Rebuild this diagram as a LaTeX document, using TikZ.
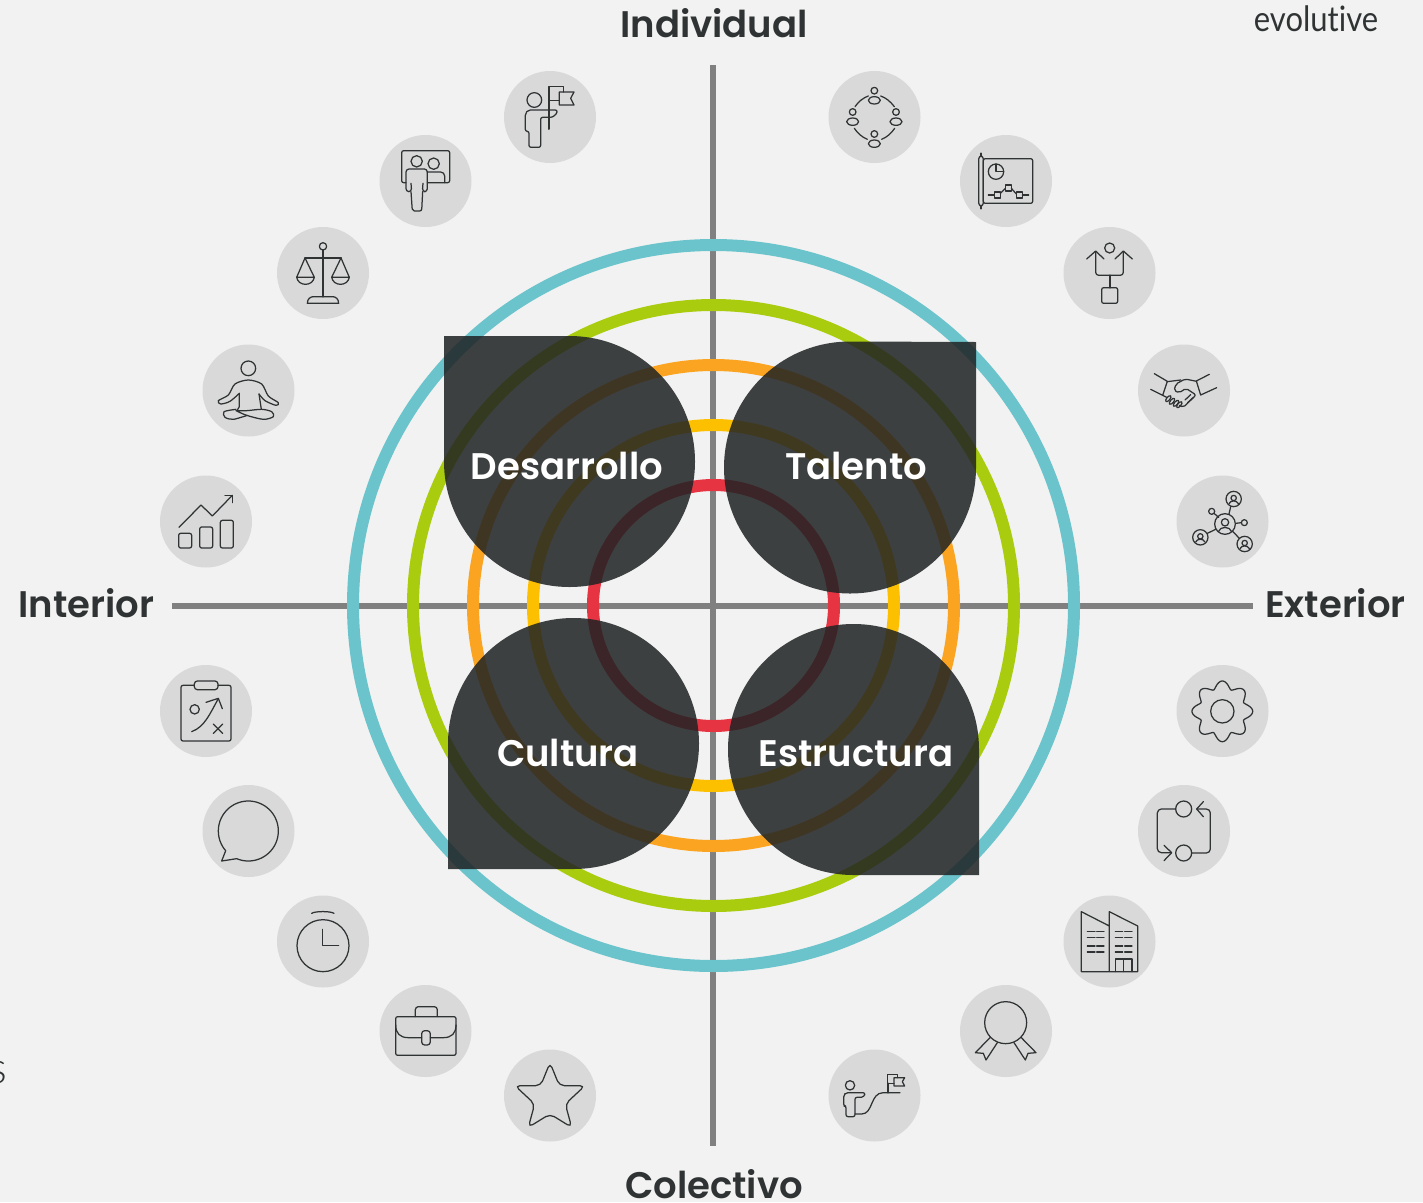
\documentclass[tikz,border=0pt]{standalone}
\usepackage{fontspec}
\newfontfamily\popsb{Poppins SemiBold}
\newfontfamily\logof[Ligatures=NoCommon,FakeStretch=0.885]{Lato}
\newfontfamily\lightf{Lato Light}
\definecolor{bgc}{HTML}{F2F2F2}
\definecolor{badgec}{HTML}{D9D9D9}
\definecolor{axisc}{HTML}{808080}
\definecolor{tealc}{HTML}{6BC3CB}
\definecolor{greenc}{HTML}{AACC0E}
\definecolor{orangec}{HTML}{FAA421}
\definecolor{yellowc}{HTML}{FDC001}
\definecolor{redc}{HTML}{E73442}
\definecolor{darkc}{HTML}{202324}
\definecolor{inkc}{HTML}{2F3334}
\tikzset{
  ring/.style={draw=#1,line width=12pt},
  axisline/.style={draw=axisc,line width=6pt},
  badge/.style={circle,fill=badgec,minimum size=92pt,inner sep=0pt},
  quad/.style={fill=darkc,fill opacity=.86},
  quadlabel/.style={text=white,font=\popsb\fontsize{37}{37}\selectfont,anchor=base,inner sep=0pt},
  axislabel/.style={text=inkc,font=\popsb\fontsize{37}{37}\selectfont,anchor=base,inner sep=0pt},
  ic/.style={draw=inkc,line width=1.25pt,line join=round,line cap=round},
  icb/.style={draw=inkc,line width=2pt,line cap=round},
  zoomA/.style={shift={(150,60)},x=.33333pt,y=-.33333pt},
  zoomB/.style={shift={(820,60)},x=.33333pt,y=-.33333pt},
  zoomC/.style={shift={(150,650)},x=.33333pt,y=-.33333pt},
  zoomD/.style={shift={(820,650)},x=.33333pt,y=-.33333pt},
}
\begin{document}
\begin{tikzpicture}[x=1pt,y=-1pt]
\useasboundingbox (0,0) rectangle (1423,1202);
\fill[bgc] (0,0) rectangle (1423,1202);
% axes
\coordinate (axT) at (712.5,65);
\coordinate (axB) at (712.5,1146);
\coordinate (axL) at (172,605.5);
\coordinate (axR) at (1253,605.5);
\draw[axisline] (axT) -- (axB);
\draw[axisline] (axL) -- (axR);
% rings
\coordinate (cen) at (713.5,605.5);
\draw[ring=tealc] (cen) circle (360.5);
\draw[ring=greenc] (cen) circle (300.5);
\draw[ring=orangec] (cen) circle (240.5);
\draw[ring=yellowc] (cen) circle (180.5);
\draw[ring=redc] (cen) circle (120.5);
% quadrant shapes
\fill[quad] (444,336) -- (569.5,336) arc[start angle=90,end angle=-180,radius=125.5pt] -- cycle;
\fill[quad] (976,342) -- (976,467.5) arc[start angle=0,end angle=-270,radius=126pt] -- cycle;
\fill[quad] (448,869) -- (448,743.5) arc[start angle=180,end angle=-90,radius=125.5pt] -- cycle;
\fill[quad] (979,875) -- (853.5,875) arc[start angle=-90,end angle=-360,radius=125.5pt] -- cycle;
\node[quadlabel] (desarrollo) at (567,479) {Desarrollo};
\node[quadlabel] (talento) at (856,479) {Talento};
\node[quadlabel] (cultura) at (568,766) {Cultura};
\node[quadlabel] (estructura) at (856,766) {Estructura};
% axis labels
\node[axislabel] (individual) at (714,37) {Individual};
\node[axislabel] (interior) at (86.5,617) {Interior};
\node[axislabel] (exterior) at (1335.5,617) {Exterior};
\node[axislabel] (colectivo) at (714,1198) {Colectivo};
\node[text=inkc,font=\logof\fontsize{35}{35}\selectfont,anchor=base,inner sep=0pt] (evolutive) at (1316,31.5) {evolutive};
\node[text=inkc,font=\lightf\fontsize{44}{44}\selectfont,anchor=base east,inner sep=0pt] (frag) at (7,1083) {s};
% badges
\node[badge] (l1) at (550,117) {};
\node[badge] (l2) at (425.5,181) {};
\node[badge] (l3) at (323,273) {};
\node[badge] (l4) at (248.5,390.5) {};
\node[badge] (l5) at (206,521.5) {};
\node[badge] (l6) at (206,711) {};
\node[badge] (l7) at (248.5,831) {};
\node[badge] (l8) at (323,941.5) {};
\node[badge] (l9) at (425.5,1031) {};
\node[badge] (l10) at (550,1095.5) {};
\node[badge] (r1) at (874.5,117) {};
\node[badge] (r2) at (1006,181) {};
\node[badge] (r3) at (1109.5,273) {};
\node[badge] (r4) at (1184,390.5) {};
\node[badge] (r5) at (1222.5,521.5) {};
\node[badge] (r6) at (1222.5,711) {};
\node[badge] (r7) at (1184,831) {};
\node[badge] (r8) at (1109.5,941.5) {};
\node[badge] (r9) at (1006,1031) {};
\node[badge] (r10) at (874.5,1095.5) {};
% ---- upper-left icons
\begin{scope}[zoomA]
 % flag person
 \draw[ic] (1153,120) circle (22);
 \draw[ic,rounded corners=2pt] (1126,160) -- (1135,150) -- (1222,150) .. controls (1220,162) and (1210,172) .. (1195,172) -- (1172,172) -- (1172,262) -- (1137,262) -- (1137,214) -- (1126,214) -- cycle;
 \draw[icb] (1197,122) -- (1197,207);
 \draw[ic] (1197,122) -- (1197,80) -- (1240,80) -- (1240,96);
 \draw[ic] (1197,122) -- (1228,122);
 \draw[ic] (1228,96) -- (1272,96) -- (1262,115) -- (1272,135) -- (1228,135) -- cycle;
 % presenter
 \draw[ic,rounded corners=2pt] (768,368) -- (755,368) -- (755,272) -- (899,272) -- (899,368) -- (832,368);
 \draw[ic] (800,304) circle (17);
 \draw[ic] (851,311) circle (17);
 \draw[ic,rounded corners=4pt] (832,336) -- (884,336) -- (884,368);
 \draw[ic,rounded corners=3pt] (783,370) -- (785,395) -- (768,395) -- (768,327) -- (832,327) -- (832,395) -- (817,395) -- (819,370);
 \draw[ic,rounded corners=2pt] (783,395) -- (787,453) -- (815,453) -- (818,395);
 % scales
 \draw[ic] (519,559) circle (11);
 \draw[icb] (519,570) -- (519,710);
 \draw[icb] (465,594) -- (573,594);
 \draw[ic] (465,594) -- (440,652) -- (493,652) -- cycle;
 \draw[ic] (440,652) .. controls (445,680) and (488,680) .. (493,652);
 \draw[ic] (573,594) -- (545,652) -- (598,652) -- cycle;
 \draw[ic] (545,652) .. controls (550,680) and (593,680) .. (598,652);
 \draw[ic] (472,730) -- (566,730) .. controls (566,716) and (556,710) .. (548,710) -- (490,710) .. controls (482,710) and (472,716) .. (472,730) -- cycle;
 % meditation
 \draw[ic] (295,925) circle (22);
 \draw[ic] plot[smooth] coordinates {(268,1000) (240,1024) (212,1032) (205,1022) (235,1005) (255,972) (295,960) (335,972) (355,1008) (385,1028) (378,1036) (345,1022) (327,1002)};
 \draw[ic] (268,1000) -- (268,1040) -- (262,1050);
 \draw[ic] (327,1002) -- (334,1048);
 \draw[ic] plot[smooth] coordinates {(258,1052) (290,1052) (335,1048) (365,1055) (370,1070) (340,1078) (290,1066) (258,1052)};
 \draw[ic] plot[smooth] coordinates {(292,1066) (250,1078) (225,1072) (222,1055) (258,1048)};
 % growth
 \draw[ic,rounded corners=2pt] (86,1420) rectangle (125,1464);
 \draw[ic,rounded corners=2pt] (149,1401) rectangle (188,1464);
 \draw[ic,rounded corners=2pt] (211,1381) rectangle (250,1464);
 \draw[ic] (87,1402) -- (153,1335) -- (187,1368) -- (247,1306);
 \draw[ic] (225,1306) -- (247,1306) -- (247,1328);
\end{scope}
% ---- upper-right icons
\begin{scope}[zoomB]
 % circle of people
 \foreach \a/\b in {163/92,98/156,228/156,163/222}{
  \draw[ic] (\a,\b) circle (10);
  \draw[ic] (\a,\b+29) ellipse (18 and 11);
 }
 \draw[ic] (105,140) .. controls (115,125) and (130,113) .. (145,108);
 \draw[ic] (182,108) .. controls (197,113) and (212,125) .. (223,140);
 \draw[ic] (103,205) .. controls (113,220) and (127,232) .. (142,238);
 \draw[ic] (185,238) .. controls (200,232) and (214,220) .. (224,205);
 % chart scroll
 \draw[ic,rounded corners=2pt] (490,296) rectangle (638,430);
 \draw[ic,rounded corners=3pt] (476,288) rectangle (490,438);
 \draw[icb] (483,280) -- (483,288);
 \draw[icb] (483,438) -- (483,446);
 \draw[ic] (528,335) circle (23);
 \draw[ic] (528,312) -- (528,335) -- (551,335);
 \draw[ic] (505,405) -- (522,405);
 \draw[ic] (523,396) rectangle (541,414);
 \draw[ic] (541,400) -- (556,385);
 \draw[ic] (556,375) rectangle (574,393);
 \draw[ic] (574,385) -- (589,402);
 \draw[ic] (589,396) rectangle (607,414);
 \draw[ic] (607,405) -- (626,405);
 % split arrows
 \draw[ic] (869,564) circle (15);
 \draw[ic,rounded corners=3pt] (827,575) -- (827,646) -- (910,646) -- (910,575);
 \draw[ic] (800,597) -- (827,573) -- (852,597);
 \draw[ic] (885,597) -- (910,573) -- (937,597);
 \draw[icb] (870,646) -- (870,683);
 \draw[ic,rounded corners=2pt] (845,683) rectangle (893,730);
 % handshake
 \draw[ic] (1003,941) -- (1042,964) -- (1028,1006) -- (992,988);
 \draw[ic] (1168,943) -- (1129,963) -- (1142,1005) -- (1190,983);
 \draw[ic] (1042,965) -- (1082,960);
 \draw[ic,rounded corners=2pt] (1130,964) -- (1095,957) -- (1068,972) -- (1062,992) -- (1078,998) -- (1098,985) -- (1128,1005) -- (1090,1042) -- (1078,1036);
 \draw[ic] (1028,1006) -- (1040,1012);
 \foreach \a/\b in {1045/1016,1056/1024,1068/1030,1078/1034}{
  \draw[ic,rotate around={50:(\a,\b)}] (\a,\b) ellipse (11 and 5);
 }
 \draw[ic] (1120,1012) -- (1103,1028);
 \draw[ic] (1112,1004) -- (1095,1020);
 % network
 \draw[ic] (1215,1392) circle (31);
 \draw[ic] (1215,1387) circle (11);
 \draw[ic] (1195,1415) .. controls (1200,1398) and (1230,1398) .. (1235,1415);
 \foreach \a/\b in {1241/1317,1141/1432,1274/1452}{
  \draw[ic] (\a,\b) circle (23);
  \draw[ic] (\a,\b-3) circle (8);
  \draw[ic] (\a-14,\b+14) .. controls (\a-9,\b+3) and (\a+9,\b+3) .. (\a+14,\b+14);
 }
 \draw[ic] (1175,1354) circle (9);
 \draw[ic] (1273,1388) circle (9);
 \draw[ic] (1232,1340) -- (1227,1362);
 \draw[ic] (1162,1420) -- (1187,1408);
 \draw[ic] (1258,1435) -- (1238,1414);
 \draw[ic] (1182,1360) -- (1196,1372);
 \draw[ic] (1247,1390) -- (1264,1388);
\end{scope}
% ---- lower-left icons
\begin{scope}[zoomC]
 % clipboard
 \draw[ic,rounded corners=2pt] (133,106) -- (93,106) -- (93,273) -- (243,273) -- (243,106) -- (204,106);
 \draw[ic,rounded corners=3pt] (133,93) rectangle (204,119);
 \draw[ic] (134,178) circle (14);
 \draw[ic] (125,245) .. controls (165,230) and (180,190) .. (205,146);
 \draw[ic] (168,157) -- (205,145) -- (217,176);
 \draw[ic] (190,222) -- (218,250);
 \draw[ic] (218,222) -- (190,250);
 % speech bubble
 \draw[ic] plot[domain=247:581,samples=90] ({295+90*cos(\x)},{543-90*sin(\x)}) -- (215,633) -- (260,626);
 % stopwatch
 \draw[ic] (519,887) circle (78);
 \draw[ic] (485,790) .. controls (495,783) and (542,783) .. (552,790);
 \draw[ic] (518,838) -- (518,886) -- (566,886);
 % briefcase
 \draw[ic,rounded corners=2pt] (737,1100) rectangle (918,1216);
 \draw[ic,rounded corners=3pt] (796,1100) -- (796,1070) -- (862,1070) -- (862,1100);
 \draw[ic] (737,1125) .. controls (737,1150) and (750,1163) .. (775,1163) -- (815,1163);
 \draw[ic] (918,1125) .. controls (918,1150) and (905,1163) .. (880,1163) -- (841,1163);
 \draw[ic,rounded corners=3pt] (815,1142) rectangle (841,1185);
 % star
 \draw[ic,rounded corners=5pt] (1200,1238) -- (1228,1307) -- (1305,1307) -- (1246,1362) -- (1265,1432) -- (1200,1392) -- (1135,1432) -- (1154,1362) -- (1095,1307) -- (1172,1307) -- cycle;
\end{scope}
% ---- lower-right icons
\begin{scope}[zoomD]
 % gear
 \draw[ic] (1207,184) circle (35);
 \draw[ic] plot[domain=0:360,samples=241] ({1207+(69+22*abs(cos(4*\x))^1.6)*cos(\x)},{184-(69+22*abs(cos(4*\x))^1.6)*sin(\x)}) -- cycle;
 % cycle
 \draw[ic] (1091,477) circle (24);
 \draw[ic] (1091,609) circle (24);
 \draw[ic,rounded corners=4pt] (1067,477) -- (1012,477) -- (1012,608) -- (1052,608);
 \draw[ic] (1032,586) -- (1055,608) -- (1032,632);
 \draw[ic,rounded corners=4pt] (1115,609) -- (1171,609) -- (1171,477) -- (1130,477);
 \draw[ic] (1150,455) -- (1130,477) -- (1150,500);
 % building
 \draw[ic] (868,965) -- (868,828) -- (784,785) -- (784,965) -- (953,965) -- (953,828) -- (868,785) -- (868,828);
 \foreach \b in {845,863,888,906}{
  \draw[ic] (802,\b) -- (825,\b);
  \draw[ic] (830,\b) -- (852,\b);
  \draw[ic] (886,\b) -- (908,\b);
  \draw[ic] (914,\b) -- (936,\b);
 }
 \draw[ic] (886,965) -- (886,927) -- (936,927) -- (936,965);
 \draw[ic] (911,927) -- (911,965);
 % award
 \draw[ic] (557,1118) circle (63);
 \draw[ic] (510,1163) -- (466,1208) -- (490,1210) -- (498,1230) -- (532,1178);
 \draw[ic] (604,1163) -- (648,1208) -- (624,1210) -- (616,1230) -- (582,1178);
 % person on path
 \draw[ic] (90,1306) circle (14);
 \draw[ic,rounded corners=2pt] (71,1335) -- (78,1328) -- (135,1328) .. controls (134,1336) and (128,1342) .. (118,1342) -- (105,1342) -- (105,1400) -- (78,1400) -- (78,1368) -- (71,1368) -- cycle;
 \draw[ic] (105,1392) -- (125,1392) .. controls (160,1392) and (150,1328) .. (190,1328) -- (240,1328);
 \draw[icb] (203,1328) -- (203,1300);
 \draw[ic] (203,1300) -- (203,1273) -- (232,1273) -- (232,1283);
 \draw[ic] (203,1300) -- (222,1300);
 \draw[ic] (222,1283) -- (254,1283) -- (247,1295) -- (254,1308) -- (222,1308) -- cycle;
\end{scope}
\end{tikzpicture}
\end{document}
